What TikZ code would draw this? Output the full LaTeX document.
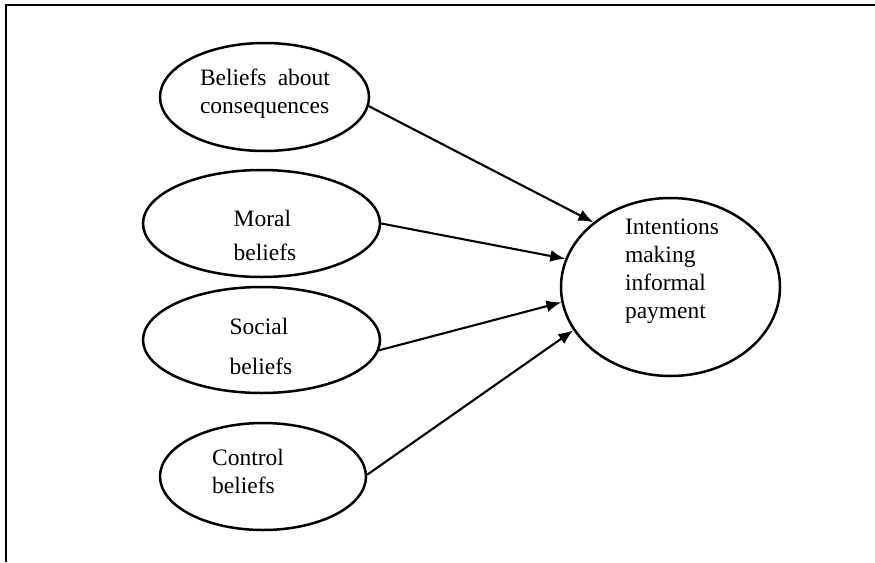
\documentclass[tikz,border=0pt]{standalone}
\usepackage{fontspec}
\setmainfont{Liberation Serif}
\usetikzlibrary{shapes.geometric,arrows.meta}
\begin{document}
\begin{tikzpicture}[x=1pt,y=-1pt,
  bubble/.style={draw,ellipse,line width=2.5pt,inner sep=0pt},
  caption/.style={inner sep=0pt,align=left,font=\fontsize{23.5}{28}\selectfont},
  link/.style={line width=2.1pt,-{Latex[length=15pt,width=12pt]}}]
\useasboundingbox (0,0) rectangle (875,562);
% open frame: top and left edges
\draw[line width=2.5pt] (875,5) -- (6,5) -- (6,562);

% belief ellipses
\node[bubble,minimum width=209pt,minimum height=108pt] (cons)    at (264.5,97)  {};
\node[bubble,minimum width=237pt,minimum height=107pt] (moral)   at (261.5,223.5) {};
\node[bubble,minimum width=237pt,minimum height=106pt] (social)  at (261.5,340) {};
\node[bubble,minimum width=206pt,minimum height=107pt] (control) at (263,476.5) {};
% outcome ellipse
\node[bubble,minimum width=219pt,minimum height=178pt] (intent)  at (670.5,287) {};

% texts
\node[caption] (cons-t)    at (265,94)    {\makebox[130pt][s]{Beliefs about}\\consequences};
\node[caption] (moral-t)   at (265,235)   {Moral\\[6pt]beliefs};
\node[caption] (social-t)  at (261,346)   {Social\\[12pt]beliefs};
\node[caption] (control-t) at (248,471)   {Control\\beliefs};
\node[caption] (intent-t)  at (672,271.5) {Intentions\\making\\informal\\payment};

% influences
\draw[link] (cons.-5.5)   -- (intent.140.2);
\draw[link] (moral.0)     -- (intent.165.6);
\draw[link] (social.-5.7) -- (intent.188.9);
\draw[link] (control.1)   -- (intent.204.9);
\end{tikzpicture}
\end{document}
